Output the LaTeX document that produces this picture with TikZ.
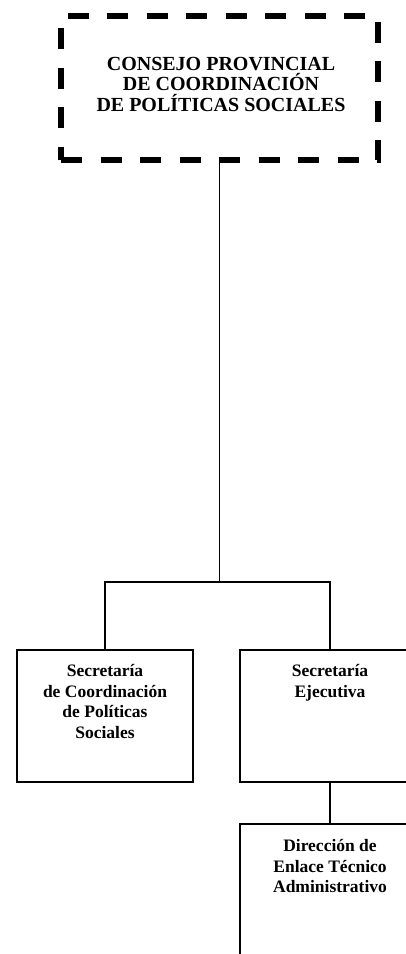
\documentclass[tikz,border=0pt]{standalone}
\usepackage{fontspec}
\setmainfont{Liberation Serif}
\usetikzlibrary{positioning}

\tikzset{
  orgbox/.style={draw=black, line width=1.6pt, minimum width=176pt, minimum height=132pt, inner sep=0pt},
  boxtext/.style={align=center, font=\fontsize{17.5}{20.5}\selectfont\bfseries, inner sep=0pt},
  link/.style={draw=black, line width=1.1pt},
}

\begin{document}
\begin{tikzpicture}[x=1pt, y=-1pt]
\useasboundingbox (0,0) rectangle (406,954);
\clip (0,0) rectangle (406,954);
\fill[white] (0,0) rectangle (406,954);

% consejo (dashed)
\node[draw=black, line width=6.5pt, dash pattern=on 21pt off 18.5pt, minimum width=317pt, minimum height=144pt, inner sep=0pt] (consejo) at (219.5,88) {};
\node[align=center, font=\fontsize{20}{20.5}\selectfont\bfseries, inner sep=0pt] (consejoText) at (221,84) {CONSEJO PROVINCIAL\\DE COORDINACIÓN\\DE POLÍTICAS SOCIALES};

% secretarias
\node[orgbox] (secCoord) at (105,716) {};
\node[orgbox, minimum width=180pt] (secEjec) at (330,716) {};
\node[orgbox, minimum width=180pt, minimum height=160pt] (dirEnlace) at (330,904) {};

\node[boxtext, below=15pt of secCoord.north] (secCoordText) {Secretaría\\de Coordinación\\de Políticas\\Sociales};
\node[boxtext, below=15pt of secEjec.north] (secEjecText) {Secretaría\\Ejecutiva};
\node[boxtext, below=16pt of dirEnlace.north] (dirEnlaceText) {Dirección de\\Enlace Técnico\\Administrativo};

% lineas
\coordinate (split) at (consejo.south |- 0,582);
\draw[link] (consejo.south) -- (split);
\draw[link] (secCoord.north) |- (split) -| (secEjec.north);
\draw[link] (secEjec.south) -- (dirEnlace.north);
\end{tikzpicture}
\end{document}
